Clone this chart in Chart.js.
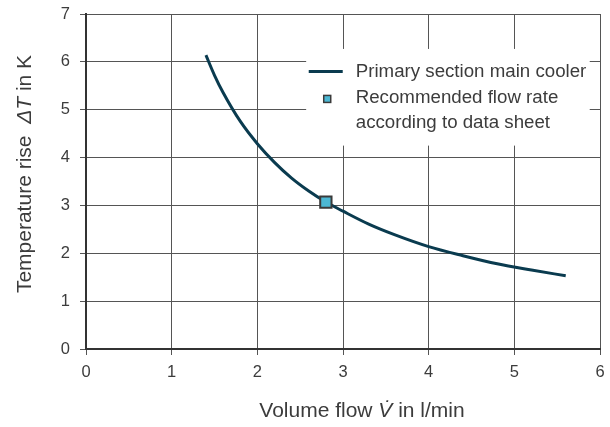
<!DOCTYPE html>
<html>
<head>
<meta charset="utf-8">
<script src="https://cdn.jsdelivr.net/npm/chart.js@4/dist/chart.umd.min.js"></script>
<style>
  html, body { margin: 0; padding: 0; background: #fff; }
  #wrap { width: 610px; height: 427px; position: relative; }
</style>
</head>
<body>
<div id="wrap"><canvas id="c"></canvas></div>
<script>
// Volume flow (l/min) and the resulting temperature rise (K)
const flowRates = [1.4, 1.5, 1.6, 1.8, 2.0, 2.2, 2.4, 2.6, 2.8, 3.0, 3.3, 3.6, 4.0, 4.4, 4.8, 5.2, 5.6];
const tempRise  = [6.14, 5.72, 5.36, 4.76, 4.29, 3.90, 3.57, 3.30, 3.07, 2.88, 2.61, 2.39, 2.14, 1.95, 1.78, 1.65, 1.53];

// Recommended operating point from the data sheet
const recommendedFlow = [2.8];
const recommendedRise = [3.07];

const xTicks = [0, 1, 2, 3, 4, 5, 6];
const yTicks = [0, 1, 2, 3, 4, 5, 6, 7];

const seriesNames = ['Primary section main cooler', ['Recommended flow rate', 'according to data sheet']];

const FONT = '"Liberation Sans", Arial, sans-serif';
const TEXT = '#3c3c3c';
const CURVE = '#0a3b4f';
const MARK_FILL = '#4cb8d4';
const MARK_EDGE = '#3a3a3a';

const curveData = flowRates.map((x, i) => ({ x, y: tempRise[i] }));
const pointData = recommendedFlow.map((x, i) => ({ x, y: recommendedRise[i] }));

// Draws a string made of plain and italic parts, centred on (0,0) of the current transform
function drawMixed(ctx, parts, size) {
  let widths = parts.map(p => { ctx.font = (p.italic ? 'italic ' : '') + size + 'px ' + FONT; return ctx.measureText(p.text).width; });
  const total = widths.reduce((a, b) => a + b, 0);
  let x = -total / 2;
  ctx.textBaseline = 'middle';
  ctx.textAlign = 'left';
  parts.forEach((p, i) => {
    ctx.font = (p.italic ? 'italic ' : '') + size + 'px ' + FONT;
    ctx.fillText(p.text, x, 0);
    x += widths[i];
  });
}

const decorations = {
  id: 'decorations',
  // white panel behind the legend, above the grid
  beforeDatasetsDraw(chart) {
    const { ctx, scales } = chart;
    const x0 = scales.x.getPixelForValue(2.57), x1 = scales.x.getPixelForValue(5.88);
    const y0 = scales.y.getPixelForValue(6.27), y1 = scales.y.getPixelForValue(4.25);
    ctx.save();
    ctx.fillStyle = '#ffffff';
    ctx.fillRect(x0, y0, x1 - x0, y1 - y0);
    ctx.restore();
  },
  afterDraw(chart) {
    const { ctx, scales } = chart;
    const sx = scales.x, sy = scales.y;
    ctx.save();
    ctx.fillStyle = TEXT;

    // legend
    const lx = sx.getPixelForValue(2.6);
    const ly = sy.getPixelForValue(5.8);
    ctx.strokeStyle = CURVE;
    ctx.lineWidth = 3;
    ctx.beginPath();
    ctx.moveTo(lx, ly);
    ctx.lineTo(lx + 34, ly);
    ctx.stroke();
    ctx.font = '18.7px ' + FONT;
    ctx.textBaseline = 'middle';
    ctx.textAlign = 'left';
    ctx.fillText(seriesNames[0], lx + 47, ly);
    const my = ly + 27;
    ctx.fillStyle = MARK_FILL;
    ctx.fillRect(lx + 15, my - 3, 7, 7);
    ctx.strokeStyle = MARK_EDGE;
    ctx.lineWidth = 1.5;
    ctx.strokeRect(lx + 15, my - 3, 7, 7);
    ctx.fillStyle = TEXT;
    ctx.fillText(seriesNames[1][0], lx + 47, my - 1);
    ctx.fillText(seriesNames[1][1], lx + 47, my + 24);

    // x axis title
    ctx.save();
    ctx.translate(362, 411);
    drawMixed(ctx, [{ text: 'Volume flow ' }, { text: 'V\u0307', italic: true }, { text: ' in l/min' }], 21);
    ctx.restore();

    // y axis title
    ctx.save();
    ctx.translate(25, 174);
    ctx.rotate(-Math.PI / 2);
    drawMixed(ctx, [{ text: 'Temperature rise  ' }, { text: '\u0394T', italic: true }, { text: ' in K' }], 21);
    ctx.restore();

    ctx.restore();
  }
};

new Chart(document.getElementById('c'), {
  type: 'scatter',
  data: {
    datasets: [
      {
        label: 'Primary section main cooler',
        data: curveData,
        showLine: true,
        borderColor: CURVE,
        borderWidth: 3,
        pointRadius: 0,
        cubicInterpolationMode: 'monotone',
        order: 2
      },
      {
        label: 'Recommended flow rate according to data sheet',
        data: pointData,
        pointStyle: 'rect',
        pointRadius: 8,
        backgroundColor: MARK_FILL,
        borderColor: MARK_EDGE,
        borderWidth: 2,
        order: 1
      }
    ]
  },
  options: {
    responsive: true,
    maintainAspectRatio: false,
    animation: false,
    layout: { padding: { top: 14, right: 10, left: 0, bottom: 0 } },
    plugins: { legend: { display: false }, tooltip: { enabled: false } },
    scales: {
      x: {
        type: 'linear',
        min: 0, max: 6,
        afterBuildTicks: s => { s.ticks = xTicks.map(v => ({ value: v })); },
        afterFit: s => { s.height = 78; s.paddingLeft = 0; s.paddingRight = 0; },
        ticks: { color: TEXT, font: { family: FONT, size: 16.5 }, padding: 8, maxRotation: 0 },
        grid: { color: '#555', lineWidth: 1, tickLength: 6, tickColor: '#555' },
        border: { color: '#333', width: 2 }
      },
      y: {
        type: 'linear',
        min: 0, max: 7,
        afterBuildTicks: s => { s.ticks = yTicks.map(v => ({ value: v })); },
        afterFit: s => { s.width = 86; s.paddingTop = 0; s.paddingBottom = 0; },
        ticks: { color: TEXT, font: { family: FONT, size: 16.5 }, padding: 10 },
        grid: { color: '#555', lineWidth: 1, tickLength: 6, tickColor: '#555' },
        border: { color: '#333', width: 2 }
      }
    }
  },
  plugins: [decorations]
});
</script>
</body>
</html>
